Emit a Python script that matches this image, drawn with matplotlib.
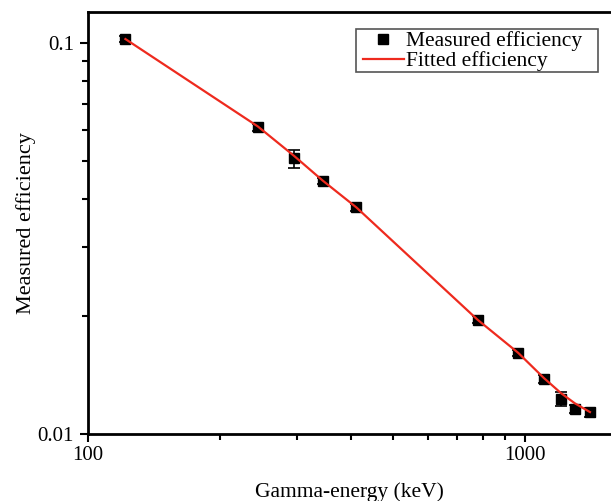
import matplotlib
matplotlib.use("Agg")
import matplotlib.pyplot as plt
from matplotlib.ticker import LogLocator, NullFormatter, FixedLocator, FixedFormatter
from matplotlib.lines import Line2D
from matplotlib.patches import Rectangle
from matplotlib.transforms import IdentityTransform

energy_kev = [121.8, 244.7, 295.9, 344.3, 411.1, 778.9, 964.1, 1105.0, 1209.0, 1299.0, 1408.0]
measured_eff = [0.1024, 0.0609, 0.0507, 0.0443, 0.0380, 0.0196, 0.01614, 0.01384, 0.0123, 0.01159, 0.01138]
measured_err = [0.0020, 0.0012, 0.0027, 0.0008, 0.0007, 0.0004, 0.0003, 0.0003, 0.0005, 0.0003, 0.0003]
fitted_eff = [0.1024, 0.0612, 0.0515, 0.0445, 0.0380, 0.0196, 0.01614, 0.01390, 0.01272, 0.01199, 0.01138]

x_ticks = [100, 1000]
x_tick_labels = ["100", "1000"]
y_ticks = [0.01, 0.1]
y_tick_labels = ["0.01", "0.1"]

plt.rcParams['font.family'] = ['Liberation Serif', 'DejaVu Serif']

W, H = 611, 501
fig = plt.figure(figsize=(W / 100, H / 100), dpi=100)
ax = fig.add_axes([88 / W, 1 - 434 / H, 1 - 88 / W, (434 - 12) / H])

red = '#ee2a1e'
ax.errorbar(energy_kev, measured_eff, yerr=measured_err, fmt='s', color='black',
            markersize=7, capsize=4, elinewidth=1.2, capthick=1.2, zorder=2)
ax.plot(energy_kev, fitted_eff, color=red, linewidth=1.6, zorder=3)

ax.set_xscale('log')
ax.set_yscale('log')
ax.set_xlim(100, 10 ** (2 + 523 / 437))
ax.set_ylim(0.01, 10 ** (-1 + 31 / 390))

ax.xaxis.set_major_locator(FixedLocator(x_ticks))
ax.xaxis.set_major_formatter(FixedFormatter(x_tick_labels))
ax.xaxis.set_minor_locator(LogLocator(base=10, subs=range(2, 10), numticks=20))
ax.xaxis.set_minor_formatter(NullFormatter())
ax.yaxis.set_major_locator(FixedLocator(y_ticks))
ax.yaxis.set_major_formatter(FixedFormatter(y_tick_labels))
ax.yaxis.set_minor_locator(LogLocator(base=10, subs=range(2, 10), numticks=20))
ax.yaxis.set_minor_formatter(NullFormatter())

ax.tick_params(which='major', direction='out', length=6, width=1.5, labelsize=15, pad=3)
ax.tick_params(which='minor', direction='out', length=4, width=1.5)
ax.tick_params(axis='y', which='major', pad=4)
ax.tick_params(top=False, right=False, which='both')

for side in ['left', 'bottom', 'top']:
    ax.spines[side].set_linewidth(2)
ax.spines['right'].set_visible(False)

ax.set_xlabel('Gamma-energy (keV)', fontsize=15.5, labelpad=12)
ax.set_ylabel('Measured efficiency', fontsize=16, labelpad=1)

h_meas = Line2D([], [], marker='s', color='black', linestyle='none', markersize=7)
h_fit = Line2D([], [], color=red, linewidth=1.6)
leg = ax.legend([h_meas, h_fit], ['Measured efficiency', 'Fitted efficiency'],
                loc='upper right', bbox_to_anchor=(582 / W, 1 - 31 / H),
                bbox_transform=fig.transFigure, fontsize=15.5,
                frameon=False, handlelength=1.9, handletextpad=0.1,
                borderpad=0.0, labelspacing=0.0, borderaxespad=0)
leg.set_zorder(6)

fig.canvas.draw()
bb = leg.get_window_extent()
frame = Rectangle((bb.x0 - 7, bb.y0 - 1), bb.width + 7 + 16, bb.height + 3,
                  transform=IdentityTransform(), fill=True, facecolor='white',
                  edgecolor='#555555', linewidth=1.2, zorder=5, clip_on=False)
ax.add_artist(frame)

fig.savefig('out.png', dpi=100)
